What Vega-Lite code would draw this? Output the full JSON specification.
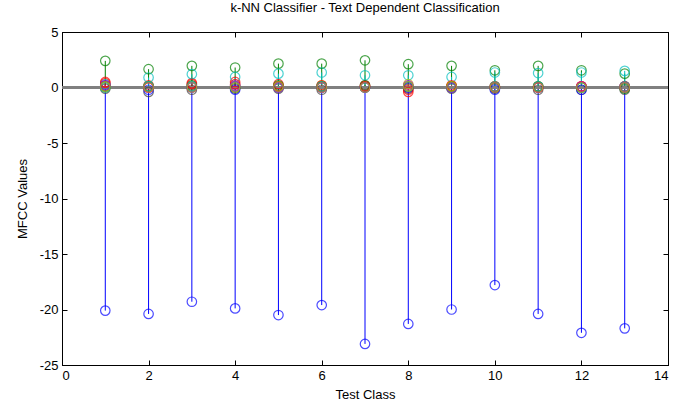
{
  "$schema": "https://vega.github.io/schema/vega-lite/v6.json",
  "autosize": {"type": "none"},
  "width": 606,
  "height": 333,
  "padding": {"left": 62, "top": 32, "right": 7, "bottom": 43},
  "background": "white",
  "config": {
    "font": "Liberation Sans",
    "view": {"stroke": "black", "strokeWidth": 1},
    "axis": {"grid": false, "domainColor": "black", "tickColor": "black", "tickSize": -5, "labelColor": "black", "labelFontSize": 13, "titleFontSize": 13, "titleFontWeight": "normal", "titleColor": "black", "labelPadding": 9, "labelExpr": "datum.value + ''"}
  },
  "title": {"text": "k-NN Classifier - Text Dependent Classification", "fontSize": 13, "fontWeight": "normal", "color": "black", "offset": 11},
  "data": {"values": [
    {"c":1,"s":"s01","v":-20.1},{"c":1,"s":"s02","v":2.4},{"c":1,"s":"s03","v":0.5},{"c":1,"s":"s04","v":0.3},{"c":1,"s":"s05","v":0.1},{"c":1,"s":"s06","v":0.0},{"c":1,"s":"s07","v":-0.1},{"c":1,"s":"s08","v":0.2},{"c":1,"s":"s09","v":0.1},{"c":1,"s":"s10","v":0.4},{"c":1,"s":"s11","v":0.0},{"c":1,"s":"s12","v":0.2},{"c":1,"s":"s13","v":0.1},
    {"c":2,"s":"s01","v":-20.4},{"c":2,"s":"s02","v":1.65},{"c":2,"s":"s03","v":0.2},{"c":2,"s":"s04","v":0.9},{"c":2,"s":"s05","v":0.0},{"c":2,"s":"s06","v":0.1},{"c":2,"s":"s07","v":-0.4},{"c":2,"s":"s08","v":-0.2},{"c":2,"s":"s09","v":0.1},{"c":2,"s":"s10","v":0.0},{"c":2,"s":"s11","v":0.1},{"c":2,"s":"s12","v":0.0},{"c":2,"s":"s13","v":0.0},
    {"c":3,"s":"s01","v":-19.3},{"c":3,"s":"s02","v":1.95},{"c":3,"s":"s03","v":0.4},{"c":3,"s":"s04","v":1.2},{"c":3,"s":"s05","v":0.1},{"c":3,"s":"s06","v":0.1},{"c":3,"s":"s07","v":-0.2},{"c":3,"s":"s08","v":0.0},{"c":3,"s":"s09","v":0.2},{"c":3,"s":"s10","v":0.3},{"c":3,"s":"s11","v":0.1},{"c":3,"s":"s12","v":0.0},{"c":3,"s":"s13","v":0.0},
    {"c":4,"s":"s01","v":-19.9},{"c":4,"s":"s02","v":1.8},{"c":4,"s":"s03","v":0.5},{"c":4,"s":"s04","v":0.95},{"c":4,"s":"s05","v":0.2},{"c":4,"s":"s06","v":0.1},{"c":4,"s":"s07","v":-0.1},{"c":4,"s":"s08","v":-0.2},{"c":4,"s":"s09","v":0.0},{"c":4,"s":"s10","v":0.3},{"c":4,"s":"s11","v":0.1},{"c":4,"s":"s12","v":0.1},{"c":4,"s":"s13","v":0.0},
    {"c":5,"s":"s01","v":-20.5},{"c":5,"s":"s02","v":2.15},{"c":5,"s":"s03","v":0.3},{"c":5,"s":"s04","v":1.25},{"c":5,"s":"s05","v":0.0},{"c":5,"s":"s06","v":0.1},{"c":5,"s":"s07","v":-0.1},{"c":5,"s":"s08","v":0.1},{"c":5,"s":"s09","v":0.2},{"c":5,"s":"s10","v":0.1},{"c":5,"s":"s11","v":0.0},{"c":5,"s":"s12","v":0.0},{"c":5,"s":"s13","v":0.1},
    {"c":6,"s":"s01","v":-19.6},{"c":6,"s":"s02","v":2.15},{"c":6,"s":"s03","v":0.1},{"c":6,"s":"s04","v":1.35},{"c":6,"s":"s05","v":0.0},{"c":6,"s":"s06","v":0.2},{"c":6,"s":"s07","v":-0.2},{"c":6,"s":"s08","v":0.0},{"c":6,"s":"s09","v":0.1},{"c":6,"s":"s10","v":0.2},{"c":6,"s":"s11","v":0.1},{"c":6,"s":"s12","v":0.0},{"c":6,"s":"s13","v":0.0},
    {"c":7,"s":"s01","v":-23.1},{"c":7,"s":"s02","v":2.45},{"c":7,"s":"s03","v":0.2},{"c":7,"s":"s04","v":1.1},{"c":7,"s":"s05","v":0.1},{"c":7,"s":"s06","v":0.1},{"c":7,"s":"s07","v":0.0},{"c":7,"s":"s08","v":0.0},{"c":7,"s":"s09","v":0.2},{"c":7,"s":"s10","v":0.1},{"c":7,"s":"s11","v":0.0},{"c":7,"s":"s12","v":0.0},{"c":7,"s":"s13","v":0.0},
    {"c":8,"s":"s01","v":-21.3},{"c":8,"s":"s02","v":2.1},{"c":8,"s":"s03","v":-0.4},{"c":8,"s":"s04","v":1.1},{"c":8,"s":"s05","v":0.0},{"c":8,"s":"s06","v":0.3},{"c":8,"s":"s07","v":-0.1},{"c":8,"s":"s08","v":0.0},{"c":8,"s":"s09","v":0.1},{"c":8,"s":"s10","v":-0.2},{"c":8,"s":"s11","v":0.1},{"c":8,"s":"s12","v":0.2},{"c":8,"s":"s13","v":0.1},
    {"c":9,"s":"s01","v":-20.0},{"c":9,"s":"s02","v":1.95},{"c":9,"s":"s03","v":0.1},{"c":9,"s":"s04","v":0.95},{"c":9,"s":"s05","v":0.0},{"c":9,"s":"s06","v":0.1},{"c":9,"s":"s07","v":-0.1},{"c":9,"s":"s08","v":0.0},{"c":9,"s":"s09","v":0.1},{"c":9,"s":"s10","v":0.2},{"c":9,"s":"s11","v":0.0},{"c":9,"s":"s12","v":0.0},{"c":9,"s":"s13","v":0.1},
    {"c":10,"s":"s01","v":-17.8},{"c":10,"s":"s02","v":1.55},{"c":10,"s":"s03","v":0.1},{"c":10,"s":"s04","v":1.35},{"c":10,"s":"s05","v":0.0},{"c":10,"s":"s06","v":0.1},{"c":10,"s":"s07","v":-0.1},{"c":10,"s":"s08","v":-0.2},{"c":10,"s":"s09","v":0.0},{"c":10,"s":"s10","v":0.1},{"c":10,"s":"s11","v":0.1},{"c":10,"s":"s12","v":0.0},{"c":10,"s":"s13","v":0.0},
    {"c":11,"s":"s01","v":-20.4},{"c":11,"s":"s02","v":1.95},{"c":11,"s":"s03","v":0.1},{"c":11,"s":"s04","v":1.3},{"c":11,"s":"s05","v":0.0},{"c":11,"s":"s06","v":0.1},{"c":11,"s":"s07","v":-0.2},{"c":11,"s":"s08","v":0.0},{"c":11,"s":"s09","v":0.1},{"c":11,"s":"s10","v":0.0},{"c":11,"s":"s11","v":0.1},{"c":11,"s":"s12","v":0.0},{"c":11,"s":"s13","v":0.0},
    {"c":12,"s":"s01","v":-22.1},{"c":12,"s":"s02","v":1.55},{"c":12,"s":"s03","v":0.1},{"c":12,"s":"s04","v":1.35},{"c":12,"s":"s05","v":0.0},{"c":12,"s":"s06","v":0.1},{"c":12,"s":"s07","v":-0.2},{"c":12,"s":"s08","v":-0.2},{"c":12,"s":"s09","v":0.0},{"c":12,"s":"s10","v":0.1},{"c":12,"s":"s11","v":0.0},{"c":12,"s":"s12","v":0.1},{"c":12,"s":"s13","v":0.0},
    {"c":13,"s":"s01","v":-21.7},{"c":13,"s":"s02","v":1.25},{"c":13,"s":"s03","v":0.1},{"c":13,"s":"s04","v":1.5},{"c":13,"s":"s05","v":0.1},{"c":13,"s":"s06","v":0.0},{"c":13,"s":"s07","v":-0.2},{"c":13,"s":"s08","v":0.0},{"c":13,"s":"s09","v":-0.1},{"c":13,"s":"s10","v":0.1},{"c":13,"s":"s11","v":0.1},{"c":13,"s":"s12","v":0.0},{"c":13,"s":"s13","v":0.0}
  ]},
  "layer": [
    {
      "mark": {"type": "rule", "strokeWidth": 1},
      "encoding": {
        "x": {"field": "c", "type": "quantitative", "scale": {"domain": [0, 14], "nice": false}, "axis": {"title": "Test Class", "values": [0,2,4,6,8,10,12,14], "titlePadding": 6}},
        "y": {"field": "v", "type": "quantitative", "scale": {"domain": [-25, 5], "nice": false}, "axis": {"title": "MFCC Values", "values": [-25,-20,-15,-10,-5,0,5], "titlePadding": 10}},
        "y2": {"datum": 0},
        "color": {"field": "s", "type": "nominal", "legend": null, "scale": {"domain": ["s01","s02","s03","s04","s05","s06","s07","s08","s09","s10","s11","s12","s13"], "range": ["#0000ff","#008000","#ff0000","#00bfbf","#bf00bf","#bfbf00","#404040","#0000ff","#008000","#ff0000","#00bfbf","#bf00bf","#bfbf00"]}}
      }
    },
    {
      "mark": {"type": "rule", "color": "#808080", "strokeWidth": 2},
      "encoding": {
        "y": {"datum": 0, "axis": {"orient": "right", "labels": false, "title": null, "values": [-25,-20,-15,-10,-5,0,5]}},
        "x": {"datum": 0, "axis": {"orient": "top", "labels": false, "title": null, "values": [0,2,4,6,8,10,12,14]}},
        "x2": {"datum": 14}
      }
    },
    {
      "mark": {"type": "point", "shape": "circle", "filled": false, "size": 90, "strokeWidth": 1.2},
      "encoding": {
        "x": {"field": "c", "type": "quantitative", "axis": null},
        "y": {"field": "v", "type": "quantitative", "axis": null},
        "color": {"field": "s", "type": "nominal", "legend": null}
      }
    }
  ],
  "resolve": {"axis": {"x": "independent", "y": "independent"}}
}
